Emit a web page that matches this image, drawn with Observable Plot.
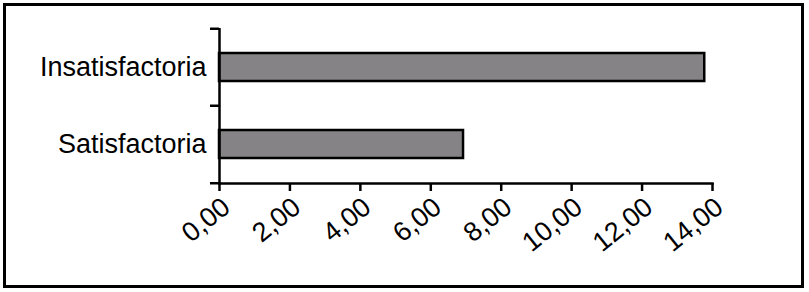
<!DOCTYPE html>
<html><head><meta charset="utf-8">
<script src="https://cdn.jsdelivr.net/npm/d3@7"></script>
<script src="https://cdn.jsdelivr.net/npm/@observablehq/plot@0.6"></script>
<style>
body{margin:0;background:#fff}
#wrap{position:relative;width:809px;height:292px}
#border{position:absolute;left:3px;top:3px;width:795px;height:279px;border:3px solid #000;pointer-events:none}
</style></head><body><div id="wrap"><div id="border"></div></div>
<script>
const categories = ["Insatisfactoria", "Satisfactoria"];
const values = [13.78, 6.93];
const xTicks = [0, 2, 4, 6, 8, 10, 12, 14];

const data = categories.map((c, i) => ({category: c, value: values[i]}));
const fmt = d => d.toFixed(2).replace(".", ",");

const W = 809, H = 292, mT = 28, mB = 109, mL = 219, mR = 97;
const half = (H - mT - mB) / categories.length / 2;

const chart = Plot.plot({
  width: W, height: H,
  marginLeft: mL, marginRight: mR, marginTop: mT, marginBottom: mB,
  style: {fontFamily: "'Liberation Sans', Arial, sans-serif", background: "transparent", color: "#000"},
  x: {domain: [0, 14], ticks: xTicks, label: null},
  y: {domain: categories, paddingInner: 0.64, paddingOuter: 0.32, label: null},
  marks: [
    Plot.barX(data, {x: "value", y: "category", fill: "#858385", stroke: "#000", strokeWidth: 2.5}),
    Plot.ruleX([0], {stroke: "#000", strokeWidth: 2.5}),
    Plot.frame({anchor: "bottom", stroke: "#000", strokeWidth: 2.5}),
    Plot.axisY({tickSize: 9, tickFormat: () => "", dy: -half, strokeWidth: 2.5}),
    Plot.axisY({ticks: [categories[categories.length - 1]], tickSize: 9, tickFormat: () => "", dy: half, strokeWidth: 2.5}),
    Plot.axisY({tickSize: 0, tickPadding: 13, fontSize: 27, label: null}),
    Plot.axisX({ticks: xTicks, tickSize: 8, strokeWidth: 2.5, tickFormat: () => "", label: null}),
    Plot.axisX({ticks: xTicks, tickSize: 0, tickPadding: 20, dx: 7, tickFormat: fmt, tickRotate: -39, fontSize: 27, label: null})
  ]
});
document.getElementById("wrap").prepend(chart);
</script></body></html>
